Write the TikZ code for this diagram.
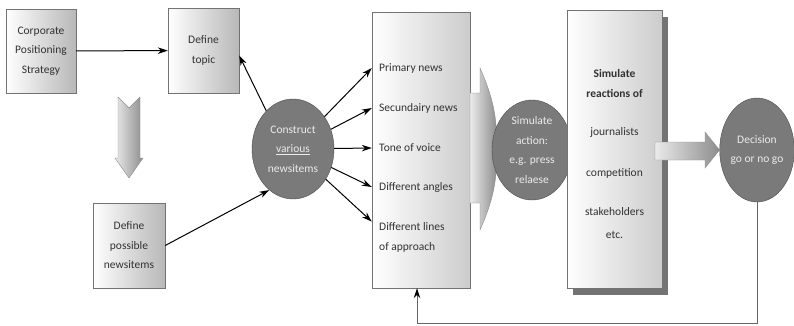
\documentclass[tikz,border=0pt]{standalone}
\usepackage{fontspec}
\setmainfont{Carlito}
\usetikzlibrary{arrows.meta,shapes.geometric}
\tikzset{
  every node/.style={font=\fontsize{11.5}{19.5}\selectfont, text=black!80},
  plainbox/.style={draw=black!55, left color=white, right color=black!28,
    minimum width=70pt, minimum height=84pt, align=center, inner sep=1pt},
  tallbox/.style={draw=black!55, left color=white, right color=black!20,
    minimum width=98pt, minimum height=276pt, inner sep=0pt},
  oval/.style={ellipse, draw=black!70, fill=black!52, text=white!92!black,
    align=center, minimum width=82pt, minimum height=100pt, inner sep=0pt},
  item/.style={anchor=west, align=left, inner sep=1pt},
  blockarrow/.style={draw=black!45, left color=black!8, right color=black!45},
  link/.style={-{Stealth[length=10pt,width=6.5pt]}, line width=1pt}
}
\begin{document}
\begin{tikzpicture}[x=1pt,y=-1pt]
  \useasboundingbox (0,0) rectangle (794,325);
  % left column
  \node[plainbox] (cps) at (41,51) {Corporate\\Positioning\\Strategy};
  \node[plainbox, minimum width=71pt, minimum height=85pt] (topic) at (203.5,50.5) {Define\\topic};
  \node[plainbox, minimum width=72pt, minimum height=85pt] (possible) at (129,245.5) {Define\\possible\\newsitems};
  \draw[blockarrow] (118,97) -- (129,108) -- (140,97) -- (140,158) -- (143,158)
    -- (129,178) -- (115,158) -- (118,158) -- cycle;
  \draw[link] (cps) -- (topic);

  % newsitems
  \node[oval] (construct) at (293,149) {Construct\\\underline{various}\\newsitems};
  \draw[link] (construct.125) -- ([yshift=-5pt]topic.east);
  \draw[link] (possible.east) -- (construct.240);

  \node[tallbox] (items) at (421,150) {};
  \node[item] (news1) at (378,68) {Primary news};
  \node[item] (news2) at (378,108) {Secundairy news};
  \node[item] (tone) at (378,148) {Tone of voice};
  \node[item] (angles) at (378,187) {Different angles};
  \node[item] (approach) at (378,237.5) {Different lines\\of approach};
  \foreach \n in {news1,news2,tone,angles}
    \draw[link] (construct) -- (items.west |- \n);
  \draw[link] (construct) -- (items.west |- approach.north);

  % action and reactions
  \draw[blockarrow] (470,93) -- (480,93) -- (480,68) to[bend left=12] (497,149)
    to[bend left=12] (480,230) -- (480,203) -- (470,203) -- cycle;
  \node[oval, minimum width=80pt] (action) at (532,150) {Simulate\\action:\\e.g. press\\relaese};

  \fill[black!55] (573,17) rectangle (668,295);
  \node[tallbox, minimum width=95pt, minimum height=278pt] (reactions) at (614.5,149) {};
  \node[align=center] (reactext) at (614.5,154)
    {\textbf{Simulate}\\\textbf{reactions of}\\[19pt]journalists\\[21pt]competition\\[20pt]stakeholders\\[3pt]etc.};

  \node[oval, minimum width=74pt, minimum height=104pt] (decision) at (757,150) {Decision\\go or no go};
  \draw[blockarrow] (655,142) -- (705,142) -- (705,132) -- (decision.west)
    -- (705,168) -- (705,160) -- (655,160) -- cycle;

  % feedback
  \coordinate (loop) at (417,323);
  \draw[-{Stealth[length=10pt,width=6.5pt,black]}, line width=1pt, draw=black!60]
    (decision.south) |- (loop) -- (loop |- items.south);
\end{tikzpicture}
\end{document}
